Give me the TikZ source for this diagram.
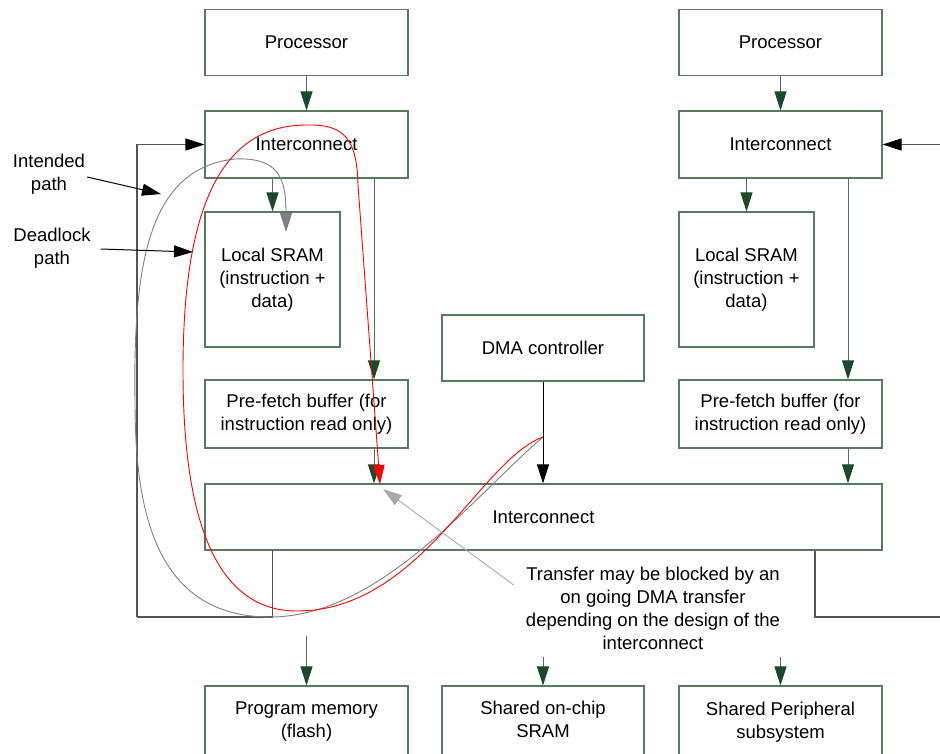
\documentclass[tikz,border=0pt]{standalone}
\usepackage{fontspec}
\setmainfont{Liberation Sans}
\usetikzlibrary{arrows.meta}

\definecolor{boxline}{HTML}{587A5E}
\definecolor{linkline}{HTML}{4F7356}
\definecolor{headgreen}{HTML}{1B4A28}
\definecolor{loopgray}{HTML}{555555}
\definecolor{pathgray}{HTML}{808080}
\definecolor{notegray}{HTML}{AAAAAA}
\definecolor{deadred}{HTML}{FF0000}

\tikzset{
  every node/.style={font=\fontsize{18.5pt}{23pt}\selectfont},
  blk/.style={draw=boxline, line width=1.1pt, fill=white, align=center,
    inner sep=0pt, minimum width=203pt, minimum height=66pt},
  greenlink/.style={draw=linkline, line width=1pt,
    -{Triangle[width=12pt,length=19pt,color=headgreen]}},
  blacklink/.style={draw=black, line width=1pt,
    -{Triangle[width=12pt,length=19pt,color=black]}},
  looplink/.style={draw=loopgray, line width=1.1pt},
  loopin/.style={draw=loopgray, line width=1.1pt,
    -{Triangle[width=12pt,length=19pt,color=black]}},
  intended/.style={draw=pathgray, line width=0.9pt,
    -{Triangle[width=12pt,length=19pt,color=pathgray]}},
  deadlock/.style={draw=deadred, line width=0.9pt,
    -{Triangle[width=12pt,length=19pt,color=deadred]}},
  notearrow/.style={draw=notegray, line width=0.9pt,
    -{Triangle[width=12pt,length=19pt,color=notegray]}},
  lbl/.style={align=center, inner sep=0pt},
}

\begin{document}
\begin{tikzpicture}[x=1pt, y=-1pt]
\useasboundingbox (0,0) rectangle (940,753);

% left processing cluster
\node[blk] (procL) at (306.5,42.5) {Processor};
\node[blk, minimum height=67pt] (icL) at (306.5,144.5) {Interconnect};
\node[blk, minimum width=135pt, minimum height=135pt] (sramL) at (272.5,279.5)
  {Local SRAM\\(instruction +\\data)};
\node[blk, minimum height=68pt] (pfL) at (306.5,414) {Pre-fetch buffer (for\\instruction read only)};

% right processing cluster
\node[blk] (procR) at (780.5,42.5) {Processor};
\node[blk, minimum height=67pt] (icR) at (780.5,144.5) {Interconnect};
\node[blk, minimum width=135pt, minimum height=135pt] (sramR) at (746.5,279.5)
  {Local SRAM\\(instruction +\\data)};
\node[blk, minimum height=68pt] (pfR) at (780.5,414) {Pre-fetch buffer (for\\instruction read only)};

% shared parts
\node[blk, minimum width=202pt] (dma) at (543,348) {DMA controller};
\node[blk, minimum width=677pt] (icBig) at (543.5,517) {Interconnect};
\node[blk, minimum height=72pt] (pm) at (306.5,722) {Program memory\\(flash)};
\node[blk, minimum width=202pt, minimum height=72pt, text depth=4.5pt] (ssram) at (543,722) {Shared on-chip\\SRAM};
\node[blk, minimum height=72pt] (periph) at (780.5,722) {Shared Peripheral\\subsystem};

% helper coordinates
\coordinate (tapL) at (374,0);
\coordinate (tapR) at (848,0);
\coordinate (stubY) at (0,636);
\coordinate (loopL) at (137,617);
\coordinate (loopRx) at (815,0);
\coordinate (loopR) at (940,617);
\coordinate (inR) at (940,144.5);
\coordinate (dmaTap) at (543,437);
\coordinate (sramGoal) at (286,232);
\coordinate (redEnd) at (380,484);
\coordinate (intTip) at (161,194);
\coordinate (deadTip) at (193,252);

% processor side links
\draw[greenlink] (procL.south) -- (icL.north);
\draw[greenlink] (sramL.north |- icL.south) -- (sramL.north);
\draw[greenlink] (icL.south -| tapL) -- (pfL.north -| tapL);
\draw[greenlink] (pfL.south -| tapL) -- (icBig.north -| tapL);

\draw[greenlink] (procR.south) -- (icR.north);
\draw[greenlink] (sramR.north |- icR.south) -- (sramR.north);
\draw[greenlink] (icR.south -| tapR) -- (pfR.north -| tapR);
\draw[greenlink] (pfR.south -| tapR) -- (icBig.north -| tapR);

\draw[blacklink] (dma.south) -- (icBig.north -| dma.south);

% links down to the shared memories
\draw[greenlink] (pm.north |- stubY) -- (pm.north);
\draw[greenlink] (ssram.north |- stubY) -- (ssram.north);
\draw[greenlink] (periph.north |- stubY) -- (periph.north);

% feedback loops into the local interconnects
\draw[looplink] (icBig.south -| sramL.south) |- (loopL);
\draw[loopin] (loopL) |- (icL.west);
\draw[looplink] (icBig.south -| loopRx) |- (loopR);
\draw[loopin] (inR) -- (icR.east);

% intended path
\draw[intended] (dmaTap) .. controls (475,495) and (380,617) .. (270,617)
  .. controls (150,617) and (135,500) .. (135,400)
  .. controls (133,260) and (150,168) .. (235,159)
  .. controls (280,157) and (286,180) .. (sramGoal);

% deadlock path
\draw[deadlock] (dmaTap) .. controls (480,460) and (420,611) .. (297,611)
  .. controls (200,611) and (183,480) .. (183,370)
  .. controls (183,190) and (230,125) .. (307,125)
  .. controls (345,124) and (357,140) .. (358,185)
  -- (redEnd);

% path labels
\node[lbl] (lblInt) at (49,174) {Intended\\path};
\node[lbl] (lblDead) at (52,248) {Deadlock\\path};
\draw[blacklink] ([xshift=2pt,yshift=-3pt]lblInt.east) -- (intTip);
\draw[blacklink] ([xshift=10pt,yshift=-1pt]lblDead.east) -- (deadTip);

% blocking note
\node[align=center, fill=white, inner xsep=12pt, inner ysep=8pt] (note) at (653,608)
  {Transfer may be blocked by an\\on going DMA transfer\\depending on the design of the\\interconnect};
\draw[notearrow] ([yshift=23pt]note.west) -- (383,489);

\end{tikzpicture}
\end{document}
